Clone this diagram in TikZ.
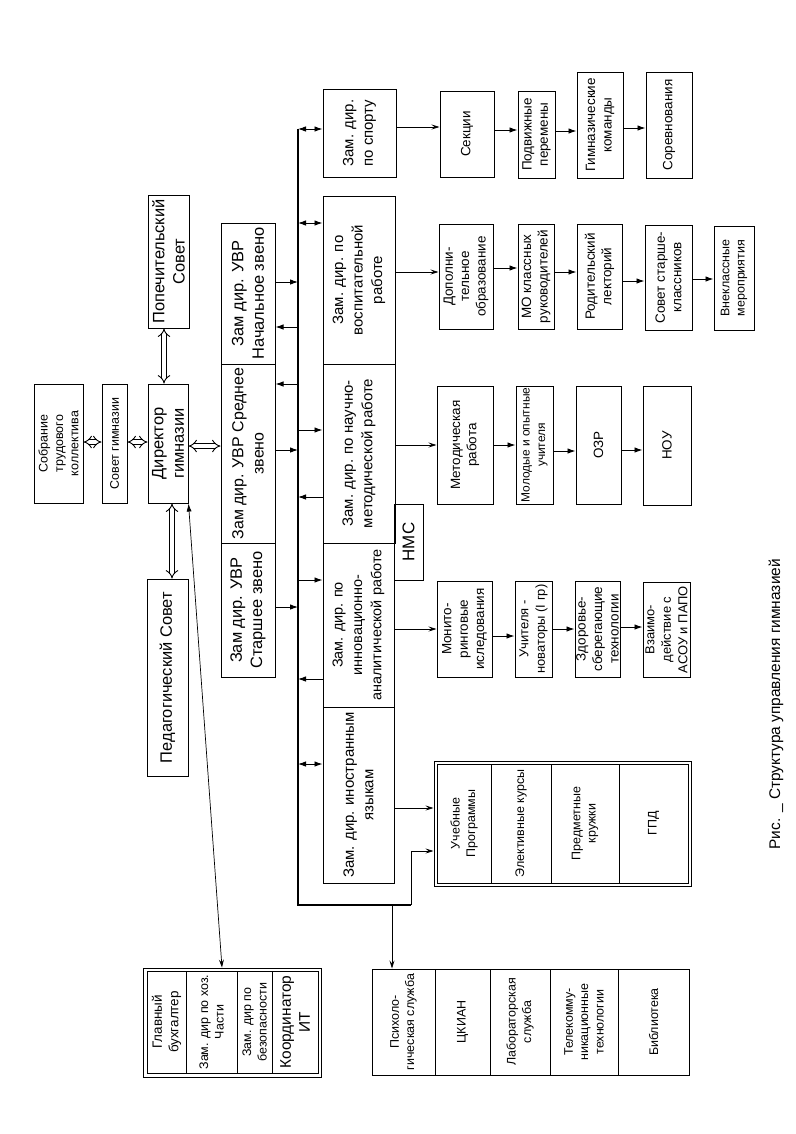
\documentclass[tikz,border=0pt]{standalone}
\usepackage{fontspec}
\setmainfont{Liberation Sans}
\usetikzlibrary{arrows.meta}
\tikzset{
 bx/.style={draw, line width=1bp, rotate=90, inner sep=0pt, align=center},
 fb/.style={font=\fontsize{16.5}{20.5}\selectfont},
 fm/.style={font=\fontsize{15}{19.5}\selectfont},
 fs/.style={font=\fontsize{13.5}{16.5}\selectfont},
 ft/.style={font=\fontsize{12.5}{15.5}\selectfont},
 arr/.style={line width=0.9bp, -{Latex[length=8bp,width=5.5bp]}},
 darr/.style={line width=0.9bp, {Latex[length=8bp,width=5.5bp]}-{Latex[length=8bp,width=5.5bp]}},
 tarr/.style={line width=0.7bp, -{Stealth[length=8bp,width=5bp,inset=3bp]}},
 harr/.style={line width=0.9bp, double, double distance=3.5bp, {Implies}-{Implies}},
 busline/.style={line width=1.2bp},
}
\newcommand\pgbox[7][]{\node[bx,minimum width={(#6-#4)*1bp},minimum height={(#5-#3)*1bp},#1] (#2) at ({(#3+#5)/2},{(#4+#6)/2}) {#7};}
\begin{document}
\begin{tikzpicture}[x=1bp,y=-1bp]
\fill[white] (0,0) rectangle (796,1134);
\useasboundingbox (0,0) rectangle (796,1134);

% top management
\pgbox[ft]{sobr}{34}{384}{83}{503}{Собрание\\трудового\\коллектива}
\pgbox[ft]{sovet}{102}{384}{127}{503}{Совет гимназии}
\pgbox[fb]{dir}{148}{384}{188}{503}{Директор\\гимназии}
\pgbox[fb]{popech}{148}{195}{189}{328}{Попечительский\\Совет}
\pgbox[fb]{ped}{147}{579}{188}{776}{Педагогический Совет}

% deputies UVR
\pgbox[fb]{uvr1}{221}{223}{275}{364}{Зам дир. УВР\\Начальное звено}
\pgbox[fb,font=\fontsize{16}{20.5}\selectfont]{uvr2}{221}{364}{275}{543}{Зам дир. УВР Среднее\\звено}
\pgbox[fb]{uvr3}{221}{543}{275}{677}{Зам дир. УВР\\Старшее звено}

% deputies right of bus
\pgbox[fm]{sport}{323}{89}{396}{177}{Зам. дир.\\по спорту}
\pgbox[fm]{vosp}{323}{196}{395}{364}{Зам. дир. по\\воспитательной\\работе}
\pgbox[fm]{nauch}{323}{364}{395}{543}{Зам. дир. по научно-\\методической работе}
\pgbox[fm,font=\fontsize{14.5}{19.5}\selectfont]{innov}{323}{543}{394}{707}{Зам. дир. по\\инновационно-\\аналитической работе}
\pgbox[fm]{inostr}{323}{707}{394}{883}{Зам. дир. иностранным\\языкам}
\pgbox[fb,font=\fontsize{17}{20}\selectfont]{nmc}{394}{504}{423}{580}{НМС}

% sport row
\pgbox[fs]{sekc}{440}{91}{494}{177}{Секции}
\pgbox[fs]{podv}{518}{91}{555}{178}{Подвижные\\перемены}
\pgbox[fs]{gimn}{577}{72}{623}{178}{Гимназические\\команды}
\pgbox[fs]{sorev}{646}{72}{692}{178}{Соревнования}

% vosp row
\pgbox[fs]{dop}{439}{224}{493}{329}{Дополни-\\тельное\\образование}
\pgbox[fs]{mo}{518}{224}{554}{329}{МО классных\\руководителей}
\pgbox[fs]{rod}{577}{224}{622}{329}{Родительский\\лекторий}
\pgbox[fs]{sovst}{645}{225}{692}{330}{Совет старше-\\классников}
\pgbox[ft]{vnekl}{714}{226}{754}{330}{Внеклассные\\мероприятия}

% nauch row
\pgbox[fs]{metod}{437}{386}{493}{504}{Методическая\\работа}
\pgbox[ft,font=\fontsize{12}{15.5}\selectfont]{molod}{516}{386}{553}{504}{Молодые и опытные\\учителя}
\pgbox[fs]{ozr}{576}{386}{621}{504}{ОЗР}
\pgbox[fs]{nou}{643}{386}{691}{505}{НОУ}

% innov row
\pgbox[fs]{monit}{437}{581}{492}{677}{Монито-\\ринговые\\иследования}
\pgbox[fs,font=\fontsize{13}{16.5}\selectfont]{uchn}{515}{581}{552}{677}{Учителя -\\новаторы (I гр)}
\pgbox[fs]{zdor}{575}{581}{620}{677}{Здоровье-\\сберегающие\\технологии}
\pgbox[fs,font=\fontsize{13}{16.5}\selectfont]{vzaim}{643}{582}{690}{677}{Взаимо-\\действие с\\АСОУ и ПАПО}

% study group (double frame)
\pgbox{uframe}{434}{761}{691}{886}{}
\pgbox[ft]{ucheb}{437}{764}{491}{883}{Учебные\\Программы}
\pgbox[ft]{elekt}{491}{764}{551}{883}{Элективные курсы}
\pgbox[ft]{predm}{551}{764}{619}{883}{Предметные\\кружки}
\pgbox[ft]{gpd}{619}{764}{688}{883}{ГПД}

% services group
\pgbox[ft]{psych}{372}{969}{435}{1075}{Психоло-\\гическая служба}
\pgbox[ft]{ckian}{435}{969}{490}{1075}{ЦКИАН}
\pgbox[ft]{labor}{490}{969}{550}{1075}{Лабораторская\\служба}
\pgbox[ft]{telek}{550}{969}{618}{1075}{Телекомму-\\никационные\\технологии}
\pgbox[ft]{bibl}{618}{969}{689}{1075}{Библиотека}

% economic group (double frame)
\pgbox{gframe}{143}{968}{321}{1077}{}
\pgbox[fs]{glav}{147}{971}{186}{1073}{Главный\\бухгалтер}
\pgbox[ft]{hoz}{186}{971}{237}{1073}{Зам. дир по хоз.\\Части}
\pgbox[ft]{bezop}{237}{971}{272}{1073}{Зам. дир по\\безопасности}
\pgbox[fb,font=\fontsize{15.5}{19}\selectfont]{koord}{272}{971}{318}{1073}{Координатор\\ИТ}

% caption
\node[rotate=90, anchor=west, font=\fontsize{15.5}{18}\selectfont] (capt) at (776,853) {Рис. \_ Структура управления гимназией};

% bus
\coordinate (bus1) at (298,129);
\coordinate (bus2) at (298,905);
\coordinate (br) at (411,905);
\coordinate (pdrop) at (392,905);
\draw[busline] (bus1) -- (bus2) -- (br);
\draw[tarr] (br) |- (uframe.north |- 0,851);
\draw[tarr] (pdrop) -- (pdrop |- psych.east);

% hollow double arrows
\draw[harr] (popech.west -| 164,0) -- (dir.east -| 164,0);
\draw[harr] (dir.west -| 172,0) -- (ped.east -| 172,0);
\draw[harr] (sobr.south |- 0,442) -- (sovet.north |- 0,442);
\draw[harr] (sovet.south |- 0,442) -- (dir.north |- 0,442);
\draw[harr] (dir.south |- 0,446) -- (uvr2.north |- 0,446);

% director to economic group
\draw[line width=0.7bp, {Latex[length=8bp,width=5bp]}-{Stealth[length=8bp,width=5bp,inset=3bp]}] (dir.south west) -- (gframe.east -| 222,0);

% UVR boxes and bus
\draw[arr] (uvr1.south |- 0,282) -- (bus1 |- 0,282);
\draw[arr] (bus1 |- 0,327) -- (uvr1.south |- 0,327);
\draw[arr] (bus1 |- 0,384) -- (uvr2.south |- 0,384);
\draw[arr] (uvr2.south |- 0,450) -- (bus1 |- 0,450);
\draw[arr] (uvr3.south |- 0,607) -- (bus1 |- 0,607);

% bus and right deputies
\draw[darr] (bus1 |- 0,129) -- (sport.north |- 0,129);
\draw[darr] (bus1 |- 0,223) -- (vosp.north |- 0,223);
\draw[arr] (bus1 |- 0,430) -- (nauch.north |- 0,430);
\draw[arr] (nauch.north |- 0,497) -- (bus1 |- 0,497);
\draw[arr] (bus1 |- 0,580) -- (innov.north |- 0,580);
\draw[arr] (innov.north |- 0,679) -- (bus1 |- 0,679);
\draw[darr] (bus1 |- 0,764) -- (inostr.north |- 0,764);

% deputies to first column
\draw[tarr] (sport.south |- 0,127) -- (sekc.north |- 0,127);
\draw[tarr] (vosp.south |- 0,272) -- (dop.north |- 0,272);
\draw[tarr] (nauch.south |- 0,445) -- (metod.north |- 0,445);
\draw[tarr] (innov.south |- 0,629) -- (monit.north |- 0,629);
\draw[tarr] (inostr.south |- 0,808) -- (uframe.north |- 0,808);

% sport row
\draw[arr] (sekc.south |- 0,130) -- (podv.north |- 0,130);
\draw[arr] (podv.south |- 0,131) -- (gimn.north |- 0,131);
\draw[arr] (gimn.south |- 0,128) -- (sorev.north |- 0,128);
% vosp row
\draw[arr] (dop.south |- 0,268) -- (mo.north |- 0,268);
\draw[arr] (mo.south |- 0,272) -- (rod.north |- 0,272);
\draw[arr] (rod.south |- 0,281) -- (sovst.north |- 0,281);
\draw[arr] (sovst.south |- 0,279) -- (vnekl.north |- 0,279);
% nauch row
\draw[arr] (metod.south |- 0,445) -- (molod.north |- 0,445);
\draw[arr] (molod.south |- 0,451) -- (ozr.north |- 0,451);
\draw[arr] (ozr.south |- 0,450) -- (nou.north |- 0,450);
% innov row
\draw[arr] (monit.south |- 0,636) -- (uchn.north |- 0,636);
\draw[arr] (uchn.south |- 0,629) -- (zdor.north |- 0,629);
\draw[arr] (zdor.south |- 0,627) -- (vzaim.north |- 0,627);
\end{tikzpicture}
\end{document}
